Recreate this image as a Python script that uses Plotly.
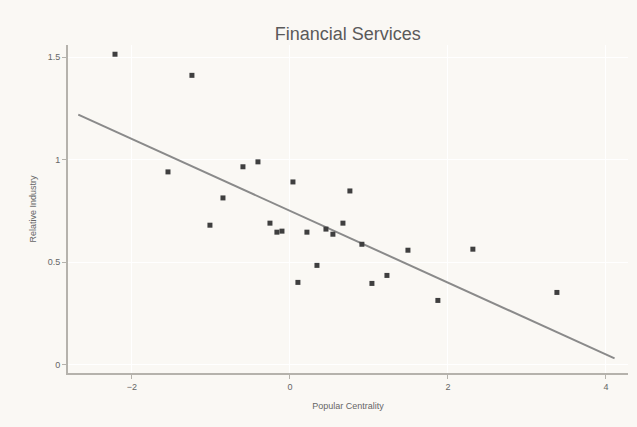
import plotly.graph_objects as go

# Data
centrality = [-2.215, -1.241, -1.544, -0.595, -0.405, -0.848, -1.013, 0.038, 0.759,
              -0.253, -0.165, -0.101, 0.215, 0.456, 0.544, 0.671, 0.911, 1.494,
              2.316, 0.342, 0.101, 1.038, 1.228, 1.873, 3.380]
ratio = [1.515, 1.412, 0.941, 0.966, 0.990, 0.814, 0.681, 0.892, 0.848,
         0.691, 0.647, 0.652, 0.647, 0.662, 0.637, 0.691, 0.588, 0.559,
         0.564, 0.485, 0.402, 0.397, 0.436, 0.314, 0.353]
# Trend line as drawn in the reference
fit_x = [-2.68, 4.11]
fit_slope = -0.175
fit_intercept = 0.751

x_ticks = [-2, 0, 2, 4]
y_ticks = [0, 0.5, 1, 1.5]

fit_y = [fit_slope * v + fit_intercept for v in fit_x]

bg = "#FAF8F4"
fig = go.Figure()
fig.add_trace(go.Scatter(x=fit_x, y=fit_y, mode="lines",
                         line=dict(color="#8a8a8a", width=2), hoverinfo="skip"))
fig.add_trace(go.Scatter(x=centrality, y=ratio, mode="markers",
                         marker=dict(symbol="square", size=5, color="#3f3f3f")))

axis_common = dict(showline=True, linecolor="#b5b2ac", linewidth=2,
                   ticks="outside", ticklen=4, tickcolor="#b5b2ac",
                   showgrid=True, gridcolor="#ffffff", gridwidth=1, zeroline=False,
                   tickfont=dict(family="Liberation Sans, Arial", size=9, color="#666666"),
                   title_font=dict(family="Liberation Sans, Arial", size=9, color="#666666"))

fig.update_layout(
    width=637, height=427,
    paper_bgcolor=bg, plot_bgcolor=bg,
    showlegend=False,
    margin=dict(l=68, r=9, t=45, b=54),
    title=dict(text="Financial Services", x=0.546, xanchor="center", y=0.922, yanchor="middle",
               font=dict(family="Liberation Sans, Arial", size=18, color="#5a5a5a")),
    xaxis=dict(range=[-2.81, 4.28], tickvals=x_ticks, title_text="Popular Centrality",
               title_standoff=12, **axis_common),
    yaxis=dict(range=[-0.04, 1.56], tickvals=y_ticks, title_text="Relative Industry",
               title_standoff=10, **axis_common),
)

fig.write_html("out.html")
